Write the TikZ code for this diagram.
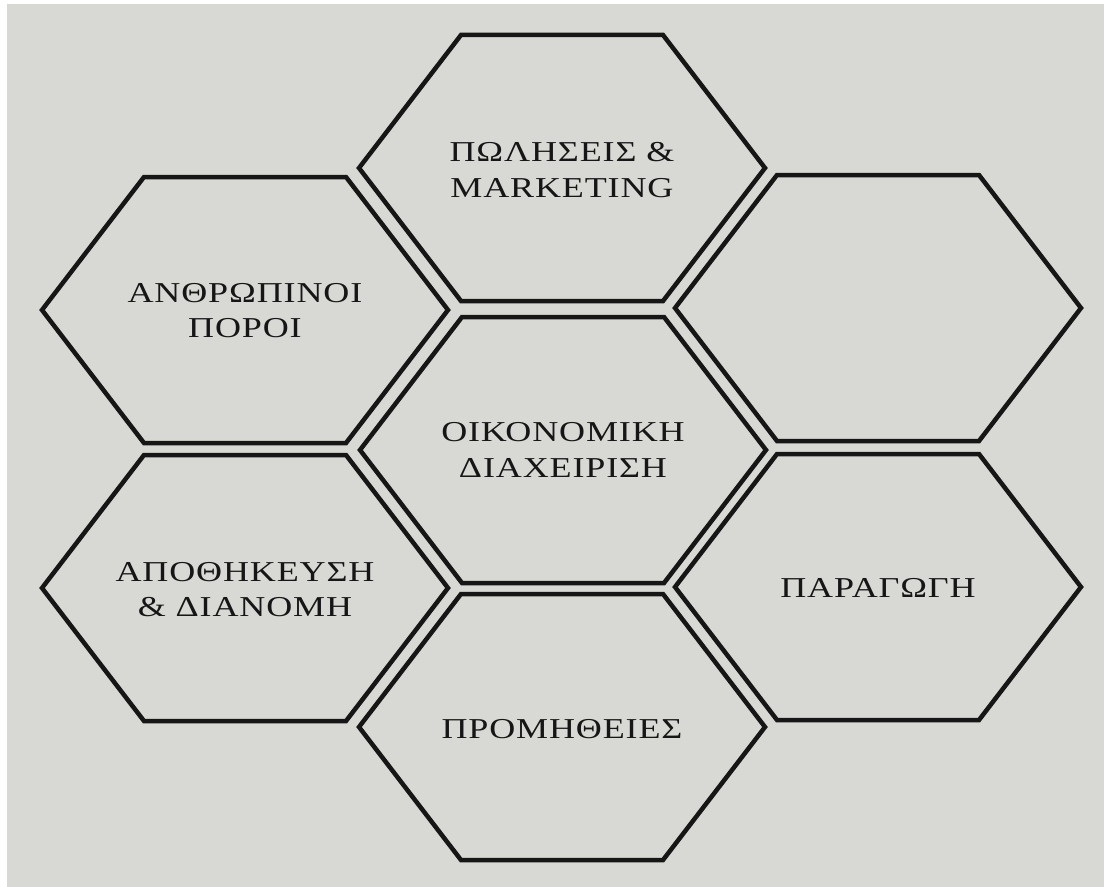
\documentclass[tikz,border=0pt]{standalone}
\usepackage{fontspec}
\setmainfont{Liberation Serif}[FakeStretch=1.25, LetterSpace=3]
\definecolor{paper}{RGB}{216,216,212}
\definecolor{ink}{RGB}{22,22,22}

\begin{document}
\begin{tikzpicture}[x=0.025cm, y=-0.025cm,
  hexa/.style={draw=ink, line width=3.2pt, line join=miter, fill=paper},
  every node/.style={font=\fontsize{20.5pt}{25pt}\selectfont, text=ink, align=center}]

\useasboundingbox (0,0) rectangle (1104,887);
\fill[white] (0,0) rectangle (1104,887);
\fill[paper] (7,4) rectangle (1104,887);

% the seven cells
\foreach \x/\y in {563/450, 562/168, 878/308, 878/587, 562/727, 245/588, 245/310} {
    \draw[hexa] (\x-203,\y) -- (\x-101,\y-133) -- (\x+101,\y-133)
        -- (\x+203,\y) -- (\x+101,\y+133) -- (\x-101,\y+133) -- cycle;
}

\node (h0) at (563,450) {ΟΙΚΟΝΟΜΙΚΗ\\ΔΙΑΧΕΙΡΙΣΗ};
\node (h1) at (562,170) {ΠΩΛΗΣΕΙΣ \&\\MARKETING};
\node (h3) at (878,588) {ΠΑΡΑΓΩΓΗ};
\node (h4) at (562,729) {ΠΡΟΜΗΘΕΙΕΣ};
\node (h5) at (245,590) {ΑΠΟΘΗΚΕΥΣΗ\\\& ΔΙΑΝΟΜΗ};
\node (h6) at (245,311) {ΑΝΘΡΩΠΙΝΟΙ\\ΠΟΡΟΙ};

\end{tikzpicture}
\end{document}
